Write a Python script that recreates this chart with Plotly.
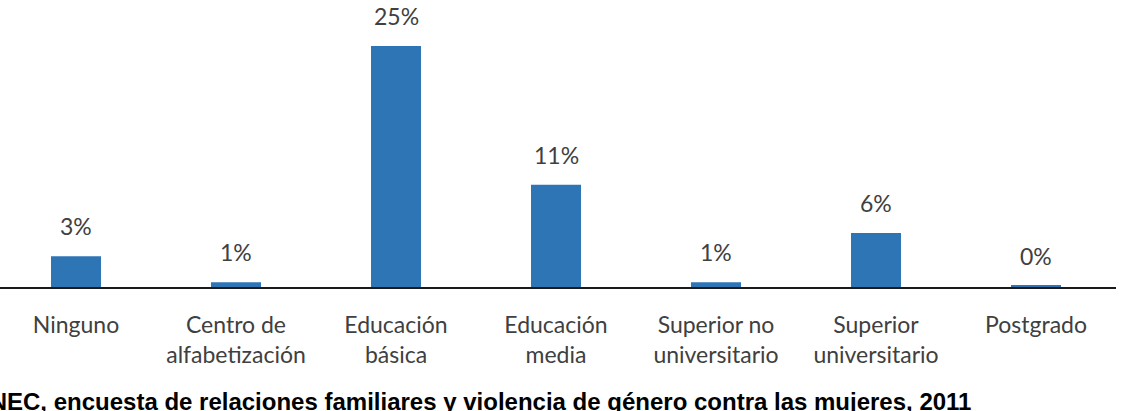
import plotly.graph_objects as go

categories = ["Ninguno", "Centro de<br>alfabetización", "Educación<br>básica",
              "Educación<br>media", "Superior no<br>universitario",
              "Superior<br>universitario", "Postgrado"]
values = [3.2, 0.5, 25.0, 10.6, 0.5, 5.6, 0.15]
value_labels = ["3%", "1%", "25%", "11%", "1%", "6%", "0%"]
source_text = "INEC, encuesta de relaciones familiares y violencia de género contra las mujeres, 2011"

W, H = 1126, 411
mt, mb, ml, mr = 0, 124, 0, 10
plot_h = H - mt - mb

bar_color = "#2E75B6"
text_color = "#404040"
font_family = "Lato"

fig = go.Figure()
fig.add_trace(go.Bar(
    x=list(range(len(categories))), y=values,
    marker=dict(color=bar_color, line=dict(width=0)),
    width=0.3125, hoverinfo="skip",
))

for i, (v, t) in enumerate(zip(values, value_labels)):
    fig.add_annotation(x=i, y=v, xref="x", yref="y", text=t, showarrow=False,
                       yanchor="bottom", yshift=14,
                       font=dict(family=font_family, size=23, color=text_color))

fig.add_annotation(x=973 / (W - ml - mr), y=-99 / plot_h, xref="paper", yref="paper",
                   text="<b>" + source_text + "</b>", showarrow=False,
                   xanchor="right", yanchor="top",
                   font=dict(family="Liberation Sans, Arial", size=24, color="#000000"))

fig.update_layout(
    width=W, height=H,
    margin=dict(l=ml, r=mr, t=mt, b=mb, pad=0),
    plot_bgcolor="white", paper_bgcolor="white",
    showlegend=False,
    xaxis=dict(
        range=[-0.475, 6.5],
        tickmode="array", tickvals=list(range(len(categories))), ticktext=categories,
        showline=True, linecolor="#1a1a1a", linewidth=2,
        showgrid=False, zeroline=False, ticks="",
        ticklabelstandoff=16,
        tickfont=dict(family=font_family, size=23, color=text_color),
    ),
    yaxis=dict(range=[0, 29.77], visible=False, showgrid=False, zeroline=False),
)

fig.write_html("out.html")
